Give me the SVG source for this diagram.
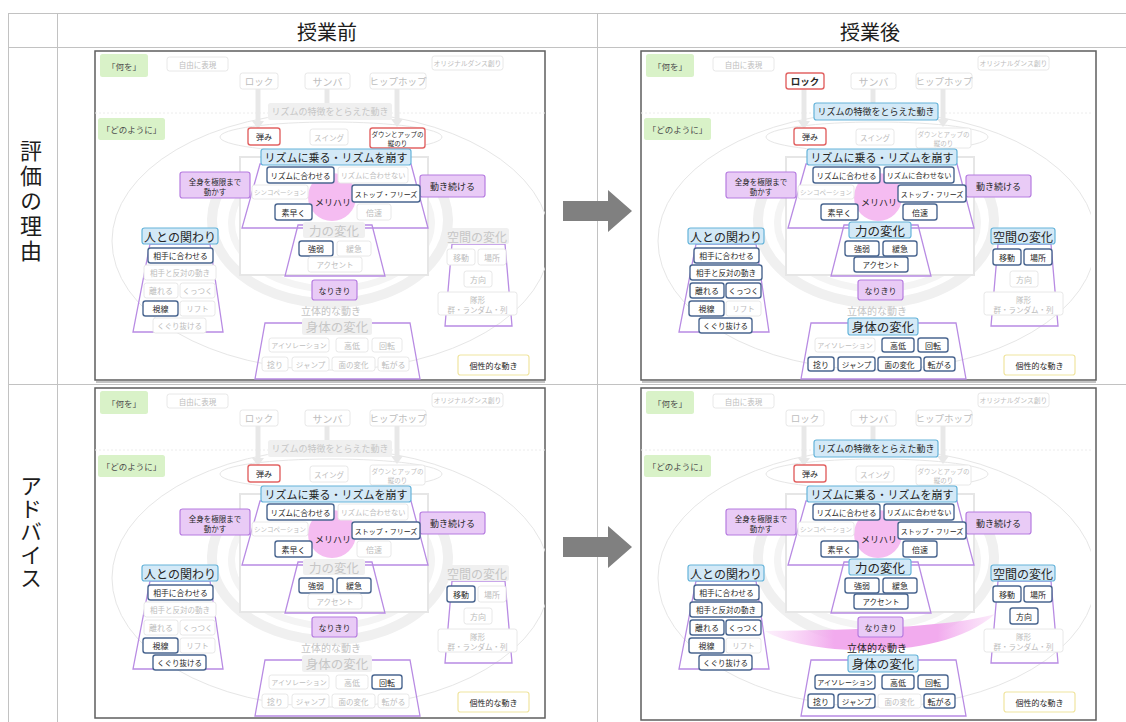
<svg xmlns="http://www.w3.org/2000/svg" xmlns:xlink="http://www.w3.org/1999/xlink" width="1126" height="722" viewBox="0 0 1126 722">
<defs>
<style>
text{font-family:"Noto Sans CJK JP","Noto Sans",sans-serif}
.n text{text-anchor:middle;dominant-baseline:central}
.n rect{rx:2.5px}
.f rect{fill:#fff;stroke:#e8e8e8;stroke-width:1}
.f text{fill:#bdbdbd}
.h rect{fill:#fff;stroke:#4a6690;stroke-width:1.4}
.h text,.r text,.pu text,.b text,.y text{fill:#262626}
.r rect{fill:#fff;stroke:#e26464;stroke-width:1.4}
.b rect{fill:#d3e9f7;stroke:#66b4da;stroke-width:1.2}
.g rect{fill:#f0f0f0}
.g text{fill:#c6c6c6}
.pu rect{fill:#e9cbf6;stroke:#b67ce0;stroke-width:1.2}
.gr rect{fill:#d9f2c8}
.gr text{fill:#4d4d4d}
.y rect{fill:#fff;stroke:#f0e5a0;stroke-width:1.2}
.rtf{fill:#c4c4c4}
.rtd{fill:#262626}
.mh{fill:#262626}
.tz{fill:none;stroke:#b88be3;stroke-width:1.3}
.frame{fill:#fff;stroke:#5e5e5e;stroke-width:1.5}
.shadow{fill:none;stroke:#c4c4c4;stroke-width:2}
.grid{stroke:#c2c2c2;stroke-width:1;fill:none}
.ttl{fill:#1c1c1c;text-anchor:middle;dominant-baseline:central}
.dl{stroke:#ececec;stroke-width:1;stroke-dasharray:2 2}
.bigell{fill:none;stroke:#e6e6e6;stroke-width:1}
.smell{fill:none;stroke:#e6e6e6;stroke-width:1}
.ring1{fill:none;stroke:#f0f0f0;stroke-width:10}
.ring2{fill:none;stroke:#f4f4f4;stroke-width:7}
.garr{stroke:#e8e8e8;stroke-width:5}
.garh{fill:#e8e8e8}
.grect{fill:#fff;stroke:#e6e6e6;stroke-width:2}
.pink{fill:#f5bcf1}
.barrow{fill:#808080}
</style>
<clipPath id="pclip"><rect x="0" y="0" width="450" height="329"/></clipPath>
<linearGradient id="pinkg" x1="0" y1="0" x2="1" y2="0">
<stop offset="0" stop-color="#f6c6f3" stop-opacity="0.25"/>
<stop offset="0.3" stop-color="#f2abee" stop-opacity="1"/>
<stop offset="0.75" stop-color="#f2abee" stop-opacity="1"/>
<stop offset="1" stop-color="#f6c6f3" stop-opacity="0.35"/>
</linearGradient>
<g id="decor">
<line x1="0" y1="62" x2="450" y2="62" class="dl"/>
<ellipse cx="236" cy="190" rx="219" ry="129" class="bigell" clip-path="url(#pclip)"/>
<path d="M131,130 A118,83 0 1 0 339,130" class="ring1"/>
<path d="M149,140 A100,66 0 1 0 324,140" class="ring2"/>
<ellipse cx="236" cy="86" rx="111" ry="15" class="smell"/>
<line x1="163" y1="38" x2="163" y2="71" class="garr"/>
<polygon points="157,70 169,70 163,78" class="garh"/>
<line x1="232" y1="38" x2="232" y2="52" class="garr"/>
<line x1="302" y1="38" x2="302" y2="69" class="garr"/>
<polygon points="296,68 308,68 302,76" class="garh"/>
<rect x="145" y="106" width="188" height="118" class="grect"/>
<polygon points="165,113 316,113 333,177 147,177" class="tz"/>
<polygon points="203,174 277,174 290,225 190,225" class="tz"/>
<polygon points="55,193 115,193 128,281 38,281" class="tz"/>
<polygon points="357,193 410,193 417,275 350,275" class="tz"/>
<polygon points="170,272 315,272 325,328 160,328" class="tz"/>
<circle cx="237" cy="146" r="24" class="pink"/>
</g>
</defs>
<rect x="0" y="0" width="1126" height="722" fill="#fff"/>
<g id="table">
<line x1="8" y1="13.5" x2="1126" y2="13.5" class="grid"/>
<line x1="8" y1="47.5" x2="1126" y2="47.5" class="grid"/>
<line x1="8" y1="384.5" x2="1126" y2="384.5" class="grid"/>
<line x1="8.5" y1="13" x2="8.5" y2="722" class="grid"/>
<line x1="57.5" y1="13" x2="57.5" y2="722" class="grid"/>
<line x1="597.5" y1="13" x2="597.5" y2="722" class="grid"/>
<text x="327" y="31" font-size="20" class="ttl">授業前</text>
<text x="870" y="31" font-size="20" class="ttl">授業後</text>
<text x="31" y="202" font-size="22" letter-spacing="3" class="ttl" style="writing-mode:vertical-rl">評価の理由</text>
<text x="31" y="532" font-size="22" letter-spacing="1" class="ttl" style="writing-mode:vertical-rl">アドバイス</text>
</g>
<g id="connectors">
<polygon points="563,201 608,201 608,190 632,211 608,232 608,221 563,221" class="barrow"/>
<polygon points="563,537 608,537 608,526 632,547 608,568 608,557 563,557" class="barrow"/>
</g>

<g id="panel-tl" transform="translate(95,51)">
<rect x="0" y="0" width="450" height="329" class="frame"/>
<line x1="1" y1="331" x2="450" y2="331" class="shadow"/>
<use xlink:href="#decor" href="#decor"/>
<g id="tl-nani" class="n gr"><rect x="5" y="3" width="48" height="23"/><text x="29" y="14.5" font-size="8.5">「何を」</text></g>
<g id="tl-dono" class="n gr"><rect x="3" y="67" width="67" height="22"/><text x="36.5" y="78" font-size="8.5">「どのように」</text></g>
<g id="tl-jiyu" class="n f"><rect x="72" y="6" width="61" height="14"/><text x="102.5" y="13" font-size="7.5">自由に表現</text></g>
<g id="tl-orig" class="n f"><rect x="337" y="5" width="71" height="14"/><text x="372.5" y="12" font-size="6.8">オリジナルダンス創り</text></g>
<g id="tl-rock" class="n f"><rect x="145" y="22" width="38" height="16"/><text x="164" y="30" font-size="9.5">ロック</text></g>
<g id="tl-samba" class="n f"><rect x="210" y="22" width="45" height="16"/><text x="232.5" y="30" font-size="10">サンバ</text></g>
<g id="tl-hiphop" class="n f"><rect x="275" y="22" width="56" height="16"/><text x="303" y="30" font-size="9.5">ヒップホップ</text></g>
<g id="tl-tokucho" class="n g"><rect x="173" y="52" width="124" height="17"/><text x="235" y="60.5" font-size="9">リズムの特徴をとらえた動き</text></g>
<g id="tl-hazumi" class="n r"><rect x="153" y="77" width="32" height="17"/><text x="169" y="85.5" font-size="8">弾み</text></g>
<g id="tl-swing" class="n f"><rect x="215" y="78" width="38" height="16"/><text x="234" y="86" font-size="7.5">スイング</text></g>
<g id="tl-down" class="n r"><rect x="275" y="77" width="55" height="20"/><text font-size="6.5"><tspan x="302.5" y="83">ダウンとアップの</tspan><tspan x="302.5" y="91.5">縦のり</tspan></text></g>
<g id="tl-noru" class="n b"><rect x="166" y="98" width="150" height="16"/><text x="241" y="106" font-size="11">リズムに乗る・リズムを崩す</text></g>
<g id="tl-awaseru" class="n h"><rect x="172" y="116" width="67" height="16"/><text x="205.5" y="124" font-size="7.5">リズムに合わせる</text></g>
<g id="tl-awasenai" class="n f"><rect x="243" y="116" width="70" height="16"/><text x="278" y="124" font-size="7.2">リズムに合わせない</text></g>
<g id="tl-zenshin" class="n pu"><rect x="85" y="121" width="70" height="26"/><text font-size="7.5"><tspan x="120" y="129.5">全身を極限まで</tspan><tspan x="120" y="140">動かす</tspan></text></g>
<g id="tl-tsuzukeru" class="n pu"><rect x="325" y="124" width="65" height="22"/><text x="357.5" y="135" font-size="9">動き続ける</text></g>
<g id="tl-sync" class="n f"><rect x="157" y="134" width="56" height="14"/><text x="185" y="141" font-size="6.5">シンコペーション</text></g>
<g id="tl-stop" class="n h"><rect x="257" y="134" width="68" height="17"/><text x="291" y="142.5" font-size="7">ストップ・フリーズ</text></g>
<g id="tl-meri" class="n"><text x="238" y="151" font-size="9" class="mh">メリハリ</text></g>
<g id="tl-subayaku" class="n h"><rect x="180" y="153" width="37" height="16"/><text x="198.5" y="161" font-size="8">素早く</text></g>
<g id="tl-baisoku" class="n f"><rect x="262" y="153" width="34" height="16"/><text x="279" y="161" font-size="8">倍速</text></g>
<g id="tl-chikara" class="n g"><rect x="208" y="171" width="62" height="16"/><text x="239" y="179" font-size="12.5">力の変化</text></g>
<g id="tl-kyojaku" class="n h"><rect x="204" y="190" width="34" height="15"/><text x="221" y="197.5" font-size="8">強弱</text></g>
<g id="tl-kankyu" class="n f"><rect x="242" y="190" width="34" height="15"/><text x="259" y="197.5" font-size="8">緩急</text></g>
<g id="tl-accent" class="n f"><rect x="213" y="206" width="54" height="15"/><text x="240" y="213.5" font-size="7.5">アクセント</text></g>
<g id="tl-narikiri" class="n pu"><rect x="217" y="229" width="45" height="20"/><text x="239.5" y="239" font-size="8">なりきり</text></g>
<g id="tl-rittai" class="n"><text x="236" y="259" font-size="10" class="rtf">立体的な動き</text></g>
<g id="tl-shintai" class="n g"><rect x="207" y="267" width="70" height="17"/><text x="242" y="275.5" font-size="12.5">身体の変化</text></g>
<g id="tl-isolation" class="n f"><rect x="174" y="287" width="60" height="14"/><text x="204" y="294" font-size="7">アイソレーション</text></g>
<g id="tl-kotei" class="n f"><rect x="241" y="287" width="32" height="14"/><text x="257" y="294" font-size="8">高低</text></g>
<g id="tl-kaiten" class="n f"><rect x="277" y="287" width="30" height="14"/><text x="292" y="294" font-size="8">回転</text></g>
<g id="tl-hineri" class="n f"><rect x="167" y="306" width="26" height="14"/><text x="180" y="313" font-size="8">捻り</text></g>
<g id="tl-jump" class="n f"><rect x="197" y="306" width="37" height="14"/><text x="215.5" y="313" font-size="7.5">ジャンプ</text></g>
<g id="tl-men" class="n f"><rect x="237" y="306" width="43" height="14"/><text x="258.5" y="313" font-size="7.5">面の変化</text></g>
<g id="tl-korogaru" class="n f"><rect x="283" y="306" width="31" height="14"/><text x="298.5" y="313" font-size="8">転がる</text></g>
<g id="tl-hito" class="n b"><rect x="47" y="177" width="76" height="16"/><text x="85" y="185" font-size="12">人との関わり</text></g>
<g id="tl-aite" class="n h"><rect x="53" y="197" width="65" height="15"/><text x="85.5" y="204.5" font-size="7.8">相手に合わせる</text></g>
<g id="tl-hantai" class="n f"><rect x="49" y="214" width="72" height="15"/><text x="85" y="221.5" font-size="7.5">相手と反対の動き</text></g>
<g id="tl-hanareru" class="n f"><rect x="49" y="232" width="34" height="15"/><text x="66" y="239.5" font-size="8">離れる</text></g>
<g id="tl-kuttsuku" class="n f"><rect x="85" y="232" width="35" height="15"/><text x="102.5" y="239.5" font-size="7.5">くっつく</text></g>
<g id="tl-shisen" class="n h"><rect x="48" y="250" width="35" height="15"/><text x="65.5" y="257.5" font-size="8">視線</text></g>
<g id="tl-lift" class="n f"><rect x="85" y="250" width="35" height="15"/><text x="102.5" y="257.5" font-size="7.5">リフト</text></g>
<g id="tl-kuguri" class="n f"><rect x="58" y="267" width="53" height="15"/><text x="84.5" y="274.5" font-size="7.5">くぐり抜ける</text></g>
<g id="tl-kukan" class="n g"><rect x="350" y="177" width="64" height="16"/><text x="382" y="185" font-size="12">空間の変化</text></g>
<g id="tl-ido" class="n f"><rect x="352" y="198" width="28" height="16"/><text x="366" y="206" font-size="8">移動</text></g>
<g id="tl-basho" class="n f"><rect x="383" y="198" width="28" height="16"/><text x="397" y="206" font-size="8">場所</text></g>
<g id="tl-hoko" class="n f"><rect x="369" y="220" width="28" height="16"/><text x="383" y="228" font-size="8">方向</text></g>
<g id="tl-taikei" class="n f"><rect x="343" y="241" width="79" height="23"/><text font-size="7.5"><tspan x="382.5" y="248">隊形</tspan><tspan x="382.5" y="258">群・ランダム・列</tspan></text></g>
<g id="tl-kosei" class="n y"><rect x="363" y="304" width="71" height="20"/><text x="398.5" y="314" font-size="8">個性的な動き</text></g>
</g>

<g id="panel-tr" transform="translate(641,51)">
<rect x="0" y="0" width="455" height="329" class="frame"/>
<line x1="1" y1="331" x2="455" y2="331" class="shadow"/>
<use xlink:href="#decor" href="#decor"/>
<g id="tr-nani" class="n gr"><rect x="5" y="3" width="48" height="23"/><text x="29" y="14.5" font-size="8.5">「何を」</text></g>
<g id="tr-dono" class="n gr"><rect x="3" y="67" width="67" height="22"/><text x="36.5" y="78" font-size="8.5">「どのように」</text></g>
<g id="tr-jiyu" class="n f"><rect x="72" y="6" width="61" height="14"/><text x="102.5" y="13" font-size="7.5">自由に表現</text></g>
<g id="tr-orig" class="n f"><rect x="337" y="5" width="71" height="14"/><text x="372.5" y="12" font-size="6.8">オリジナルダンス創り</text></g>
<g id="tr-rock" class="n r"><rect x="145" y="22" width="38" height="16"/><text x="164" y="30" font-size="9.5" font-weight="bold">ロック</text></g>
<g id="tr-samba" class="n f"><rect x="210" y="22" width="45" height="16"/><text x="232.5" y="30" font-size="10">サンバ</text></g>
<g id="tr-hiphop" class="n f"><rect x="275" y="22" width="56" height="16"/><text x="303" y="30" font-size="9.5">ヒップホップ</text></g>
<g id="tr-tokucho" class="n b"><rect x="173" y="52" width="124" height="17"/><text x="235" y="60.5" font-size="9">リズムの特徴をとらえた動き</text></g>
<g id="tr-hazumi" class="n r"><rect x="153" y="77" width="32" height="17"/><text x="169" y="85.5" font-size="8">弾み</text></g>
<g id="tr-swing" class="n f"><rect x="215" y="78" width="38" height="16"/><text x="234" y="86" font-size="7.5">スイング</text></g>
<g id="tr-down" class="n f"><rect x="275" y="77" width="55" height="20"/><text font-size="6.5"><tspan x="302.5" y="83">ダウンとアップの</tspan><tspan x="302.5" y="91.5">縦のり</tspan></text></g>
<g id="tr-noru" class="n b"><rect x="166" y="98" width="150" height="16"/><text x="241" y="106" font-size="11">リズムに乗る・リズムを崩す</text></g>
<g id="tr-awaseru" class="n h"><rect x="172" y="116" width="67" height="16"/><text x="205.5" y="124" font-size="7.5">リズムに合わせる</text></g>
<g id="tr-awasenai" class="n h"><rect x="243" y="116" width="70" height="16"/><text x="278" y="124" font-size="7.2">リズムに合わせない</text></g>
<g id="tr-zenshin" class="n pu"><rect x="85" y="121" width="70" height="26"/><text font-size="7.5"><tspan x="120" y="129.5">全身を極限まで</tspan><tspan x="120" y="140">動かす</tspan></text></g>
<g id="tr-tsuzukeru" class="n pu"><rect x="325" y="124" width="65" height="22"/><text x="357.5" y="135" font-size="9">動き続ける</text></g>
<g id="tr-sync" class="n f"><rect x="157" y="134" width="56" height="14"/><text x="185" y="141" font-size="6.5">シンコペーション</text></g>
<g id="tr-stop" class="n h"><rect x="257" y="134" width="68" height="17"/><text x="291" y="142.5" font-size="7">ストップ・フリーズ</text></g>
<g id="tr-meri" class="n"><text x="238" y="151" font-size="9" class="mh">メリハリ</text></g>
<g id="tr-subayaku" class="n h"><rect x="180" y="153" width="37" height="16"/><text x="198.5" y="161" font-size="8">素早く</text></g>
<g id="tr-baisoku" class="n h"><rect x="262" y="153" width="34" height="16"/><text x="279" y="161" font-size="8">倍速</text></g>
<g id="tr-chikara" class="n b"><rect x="208" y="171" width="62" height="16"/><text x="239" y="179" font-size="12.5">力の変化</text></g>
<g id="tr-kyojaku" class="n h"><rect x="204" y="190" width="34" height="15"/><text x="221" y="197.5" font-size="8">強弱</text></g>
<g id="tr-kankyu" class="n h"><rect x="242" y="190" width="34" height="15"/><text x="259" y="197.5" font-size="8">緩急</text></g>
<g id="tr-accent" class="n h"><rect x="213" y="206" width="54" height="15"/><text x="240" y="213.5" font-size="7.5">アクセント</text></g>
<g id="tr-narikiri" class="n pu"><rect x="217" y="229" width="45" height="20"/><text x="239.5" y="239" font-size="8">なりきり</text></g>
<g id="tr-rittai" class="n"><text x="236" y="259" font-size="10" class="rtf">立体的な動き</text></g>
<g id="tr-shintai" class="n b"><rect x="207" y="267" width="70" height="17"/><text x="242" y="275.5" font-size="12.5">身体の変化</text></g>
<g id="tr-isolation" class="n f"><rect x="174" y="287" width="60" height="14"/><text x="204" y="294" font-size="7">アイソレーション</text></g>
<g id="tr-kotei" class="n h"><rect x="241" y="287" width="32" height="14"/><text x="257" y="294" font-size="8">高低</text></g>
<g id="tr-kaiten" class="n h"><rect x="277" y="287" width="30" height="14"/><text x="292" y="294" font-size="8">回転</text></g>
<g id="tr-hineri" class="n h"><rect x="167" y="306" width="26" height="14"/><text x="180" y="313" font-size="8">捻り</text></g>
<g id="tr-jump" class="n h"><rect x="197" y="306" width="37" height="14"/><text x="215.5" y="313" font-size="7.5">ジャンプ</text></g>
<g id="tr-men" class="n h"><rect x="237" y="306" width="43" height="14"/><text x="258.5" y="313" font-size="7.5">面の変化</text></g>
<g id="tr-korogaru" class="n h"><rect x="283" y="306" width="31" height="14"/><text x="298.5" y="313" font-size="8">転がる</text></g>
<g id="tr-hito" class="n b"><rect x="47" y="177" width="76" height="16"/><text x="85" y="185" font-size="12">人との関わり</text></g>
<g id="tr-aite" class="n h"><rect x="53" y="197" width="65" height="15"/><text x="85.5" y="204.5" font-size="7.8">相手に合わせる</text></g>
<g id="tr-hantai" class="n h"><rect x="49" y="214" width="72" height="15"/><text x="85" y="221.5" font-size="7.5">相手と反対の動き</text></g>
<g id="tr-hanareru" class="n h"><rect x="49" y="232" width="34" height="15"/><text x="66" y="239.5" font-size="8">離れる</text></g>
<g id="tr-kuttsuku" class="n h"><rect x="85" y="232" width="35" height="15"/><text x="102.5" y="239.5" font-size="7.5">くっつく</text></g>
<g id="tr-shisen" class="n h"><rect x="48" y="250" width="35" height="15"/><text x="65.5" y="257.5" font-size="8">視線</text></g>
<g id="tr-lift" class="n f"><rect x="85" y="250" width="35" height="15"/><text x="102.5" y="257.5" font-size="7.5">リフト</text></g>
<g id="tr-kuguri" class="n h"><rect x="58" y="267" width="53" height="15"/><text x="84.5" y="274.5" font-size="7.5">くぐり抜ける</text></g>
<g id="tr-kukan" class="n b"><rect x="350" y="177" width="64" height="16"/><text x="382" y="185" font-size="12">空間の変化</text></g>
<g id="tr-ido" class="n h"><rect x="352" y="198" width="28" height="16"/><text x="366" y="206" font-size="8">移動</text></g>
<g id="tr-basho" class="n h"><rect x="383" y="198" width="28" height="16"/><text x="397" y="206" font-size="8">場所</text></g>
<g id="tr-hoko" class="n f"><rect x="369" y="220" width="28" height="16"/><text x="383" y="228" font-size="8">方向</text></g>
<g id="tr-taikei" class="n f"><rect x="343" y="241" width="79" height="23"/><text font-size="7.5"><tspan x="382.5" y="248">隊形</tspan><tspan x="382.5" y="258">群・ランダム・列</tspan></text></g>
<g id="tr-kosei" class="n y"><rect x="363" y="304" width="71" height="20"/><text x="398.5" y="314" font-size="8">個性的な動き</text></g>
</g>

<g id="panel-bl" transform="translate(95,388)">
<rect x="0" y="0" width="450" height="330" class="frame"/>
<use xlink:href="#decor" href="#decor"/>
<g id="bl-nani" class="n gr"><rect x="5" y="3" width="48" height="23"/><text x="29" y="14.5" font-size="8.5">「何を」</text></g>
<g id="bl-dono" class="n gr"><rect x="3" y="67" width="67" height="22"/><text x="36.5" y="78" font-size="8.5">「どのように」</text></g>
<g id="bl-jiyu" class="n f"><rect x="72" y="6" width="61" height="14"/><text x="102.5" y="13" font-size="7.5">自由に表現</text></g>
<g id="bl-orig" class="n f"><rect x="337" y="5" width="71" height="14"/><text x="372.5" y="12" font-size="6.8">オリジナルダンス創り</text></g>
<g id="bl-rock" class="n f"><rect x="145" y="22" width="38" height="16"/><text x="164" y="30" font-size="9.5">ロック</text></g>
<g id="bl-samba" class="n f"><rect x="210" y="22" width="45" height="16"/><text x="232.5" y="30" font-size="10">サンバ</text></g>
<g id="bl-hiphop" class="n f"><rect x="275" y="22" width="56" height="16"/><text x="303" y="30" font-size="9.5">ヒップホップ</text></g>
<g id="bl-tokucho" class="n g"><rect x="173" y="52" width="124" height="17"/><text x="235" y="60.5" font-size="9">リズムの特徴をとらえた動き</text></g>
<g id="bl-hazumi" class="n r"><rect x="153" y="77" width="32" height="17"/><text x="169" y="85.5" font-size="8">弾み</text></g>
<g id="bl-swing" class="n f"><rect x="215" y="78" width="38" height="16"/><text x="234" y="86" font-size="7.5">スイング</text></g>
<g id="bl-down" class="n f"><rect x="275" y="77" width="55" height="20"/><text font-size="6.5"><tspan x="302.5" y="83">ダウンとアップの</tspan><tspan x="302.5" y="91.5">縦のり</tspan></text></g>
<g id="bl-noru" class="n b"><rect x="166" y="98" width="150" height="16"/><text x="241" y="106" font-size="11">リズムに乗る・リズムを崩す</text></g>
<g id="bl-awaseru" class="n h"><rect x="172" y="116" width="67" height="16"/><text x="205.5" y="124" font-size="7.5">リズムに合わせる</text></g>
<g id="bl-awasenai" class="n f"><rect x="243" y="116" width="70" height="16"/><text x="278" y="124" font-size="7.2">リズムに合わせない</text></g>
<g id="bl-zenshin" class="n pu"><rect x="85" y="121" width="70" height="26"/><text font-size="7.5"><tspan x="120" y="129.5">全身を極限まで</tspan><tspan x="120" y="140">動かす</tspan></text></g>
<g id="bl-tsuzukeru" class="n pu"><rect x="325" y="124" width="65" height="22"/><text x="357.5" y="135" font-size="9">動き続ける</text></g>
<g id="bl-sync" class="n f"><rect x="157" y="134" width="56" height="14"/><text x="185" y="141" font-size="6.5">シンコペーション</text></g>
<g id="bl-stop" class="n h"><rect x="257" y="134" width="68" height="17"/><text x="291" y="142.5" font-size="7">ストップ・フリーズ</text></g>
<g id="bl-meri" class="n"><text x="238" y="151" font-size="9" class="mh">メリハリ</text></g>
<g id="bl-subayaku" class="n h"><rect x="180" y="153" width="37" height="16"/><text x="198.5" y="161" font-size="8">素早く</text></g>
<g id="bl-baisoku" class="n f"><rect x="262" y="153" width="34" height="16"/><text x="279" y="161" font-size="8">倍速</text></g>
<g id="bl-chikara" class="n g"><rect x="208" y="171" width="62" height="16"/><text x="239" y="179" font-size="12.5">力の変化</text></g>
<g id="bl-kyojaku" class="n h"><rect x="204" y="190" width="34" height="15"/><text x="221" y="197.5" font-size="8">強弱</text></g>
<g id="bl-kankyu" class="n h"><rect x="242" y="190" width="34" height="15"/><text x="259" y="197.5" font-size="8">緩急</text></g>
<g id="bl-accent" class="n f"><rect x="213" y="206" width="54" height="15"/><text x="240" y="213.5" font-size="7.5">アクセント</text></g>
<g id="bl-narikiri" class="n pu"><rect x="217" y="229" width="45" height="20"/><text x="239.5" y="239" font-size="8">なりきり</text></g>
<g id="bl-rittai" class="n"><text x="236" y="259" font-size="10" class="rtf">立体的な動き</text></g>
<g id="bl-shintai" class="n g"><rect x="207" y="267" width="70" height="17"/><text x="242" y="275.5" font-size="12.5">身体の変化</text></g>
<g id="bl-isolation" class="n f"><rect x="174" y="287" width="60" height="14"/><text x="204" y="294" font-size="7">アイソレーション</text></g>
<g id="bl-kotei" class="n f"><rect x="241" y="287" width="32" height="14"/><text x="257" y="294" font-size="8">高低</text></g>
<g id="bl-kaiten" class="n h"><rect x="277" y="287" width="30" height="14"/><text x="292" y="294" font-size="8">回転</text></g>
<g id="bl-hineri" class="n f"><rect x="167" y="306" width="26" height="14"/><text x="180" y="313" font-size="8">捻り</text></g>
<g id="bl-jump" class="n f"><rect x="197" y="306" width="37" height="14"/><text x="215.5" y="313" font-size="7.5">ジャンプ</text></g>
<g id="bl-men" class="n f"><rect x="237" y="306" width="43" height="14"/><text x="258.5" y="313" font-size="7.5">面の変化</text></g>
<g id="bl-korogaru" class="n f"><rect x="283" y="306" width="31" height="14"/><text x="298.5" y="313" font-size="8">転がる</text></g>
<g id="bl-hito" class="n b"><rect x="47" y="177" width="76" height="16"/><text x="85" y="185" font-size="12">人との関わり</text></g>
<g id="bl-aite" class="n h"><rect x="53" y="197" width="65" height="15"/><text x="85.5" y="204.5" font-size="7.8">相手に合わせる</text></g>
<g id="bl-hantai" class="n f"><rect x="49" y="214" width="72" height="15"/><text x="85" y="221.5" font-size="7.5">相手と反対の動き</text></g>
<g id="bl-hanareru" class="n f"><rect x="49" y="232" width="34" height="15"/><text x="66" y="239.5" font-size="8">離れる</text></g>
<g id="bl-kuttsuku" class="n f"><rect x="85" y="232" width="35" height="15"/><text x="102.5" y="239.5" font-size="7.5">くっつく</text></g>
<g id="bl-shisen" class="n h"><rect x="48" y="250" width="35" height="15"/><text x="65.5" y="257.5" font-size="8">視線</text></g>
<g id="bl-lift" class="n f"><rect x="85" y="250" width="35" height="15"/><text x="102.5" y="257.5" font-size="7.5">リフト</text></g>
<g id="bl-kuguri" class="n h"><rect x="58" y="267" width="53" height="15"/><text x="84.5" y="274.5" font-size="7.5">くぐり抜ける</text></g>
<g id="bl-kukan" class="n g"><rect x="350" y="177" width="64" height="16"/><text x="382" y="185" font-size="12">空間の変化</text></g>
<g id="bl-ido" class="n h"><rect x="352" y="198" width="28" height="16"/><text x="366" y="206" font-size="8">移動</text></g>
<g id="bl-basho" class="n f"><rect x="383" y="198" width="28" height="16"/><text x="397" y="206" font-size="8">場所</text></g>
<g id="bl-hoko" class="n f"><rect x="369" y="220" width="28" height="16"/><text x="383" y="228" font-size="8">方向</text></g>
<g id="bl-taikei" class="n f"><rect x="343" y="241" width="79" height="23"/><text font-size="7.5"><tspan x="382.5" y="248">隊形</tspan><tspan x="382.5" y="258">群・ランダム・列</tspan></text></g>
<g id="bl-kosei" class="n y"><rect x="363" y="304" width="71" height="20"/><text x="398.5" y="314" font-size="8">個性的な動き</text></g>
</g>

<g id="panel-br" transform="translate(641,388)">
<rect x="0" y="0" width="455" height="332" class="frame"/>
<use xlink:href="#decor" href="#decor"/>
<path d="M124,243 C165,268 300,275 354,226 C300,242 170,242 124,243 Z" fill="url(#pinkg)"/>
<g id="br-nani" class="n gr"><rect x="5" y="3" width="48" height="23"/><text x="29" y="14.5" font-size="8.5">「何を」</text></g>
<g id="br-dono" class="n gr"><rect x="3" y="67" width="67" height="22"/><text x="36.5" y="78" font-size="8.5">「どのように」</text></g>
<g id="br-jiyu" class="n f"><rect x="72" y="6" width="61" height="14"/><text x="102.5" y="13" font-size="7.5">自由に表現</text></g>
<g id="br-orig" class="n f"><rect x="337" y="5" width="71" height="14"/><text x="372.5" y="12" font-size="6.8">オリジナルダンス創り</text></g>
<g id="br-rock" class="n f"><rect x="145" y="22" width="38" height="16"/><text x="164" y="30" font-size="9.5">ロック</text></g>
<g id="br-samba" class="n f"><rect x="210" y="22" width="45" height="16"/><text x="232.5" y="30" font-size="10">サンバ</text></g>
<g id="br-hiphop" class="n f"><rect x="275" y="22" width="56" height="16"/><text x="303" y="30" font-size="9.5">ヒップホップ</text></g>
<g id="br-tokucho" class="n b"><rect x="173" y="52" width="124" height="17"/><text x="235" y="60.5" font-size="9">リズムの特徴をとらえた動き</text></g>
<g id="br-hazumi" class="n r"><rect x="153" y="77" width="32" height="17"/><text x="169" y="85.5" font-size="8">弾み</text></g>
<g id="br-swing" class="n f"><rect x="215" y="78" width="38" height="16"/><text x="234" y="86" font-size="7.5">スイング</text></g>
<g id="br-down" class="n f"><rect x="275" y="77" width="55" height="20"/><text font-size="6.5"><tspan x="302.5" y="83">ダウンとアップの</tspan><tspan x="302.5" y="91.5">縦のり</tspan></text></g>
<g id="br-noru" class="n b"><rect x="166" y="98" width="150" height="16"/><text x="241" y="106" font-size="11">リズムに乗る・リズムを崩す</text></g>
<g id="br-awaseru" class="n h"><rect x="172" y="116" width="67" height="16"/><text x="205.5" y="124" font-size="7.5">リズムに合わせる</text></g>
<g id="br-awasenai" class="n h"><rect x="243" y="116" width="70" height="16"/><text x="278" y="124" font-size="7.2">リズムに合わせない</text></g>
<g id="br-zenshin" class="n pu"><rect x="85" y="121" width="70" height="26"/><text font-size="7.5"><tspan x="120" y="129.5">全身を極限まで</tspan><tspan x="120" y="140">動かす</tspan></text></g>
<g id="br-tsuzukeru" class="n pu"><rect x="325" y="124" width="65" height="22"/><text x="357.5" y="135" font-size="9">動き続ける</text></g>
<g id="br-sync" class="n f"><rect x="157" y="134" width="56" height="14"/><text x="185" y="141" font-size="6.5">シンコペーション</text></g>
<g id="br-stop" class="n h"><rect x="257" y="134" width="68" height="17"/><text x="291" y="142.5" font-size="7">ストップ・フリーズ</text></g>
<g id="br-meri" class="n"><text x="238" y="151" font-size="9" class="mh">メリハリ</text></g>
<g id="br-subayaku" class="n h"><rect x="180" y="153" width="37" height="16"/><text x="198.5" y="161" font-size="8">素早く</text></g>
<g id="br-baisoku" class="n h"><rect x="262" y="153" width="34" height="16"/><text x="279" y="161" font-size="8">倍速</text></g>
<g id="br-chikara" class="n b"><rect x="208" y="171" width="62" height="16"/><text x="239" y="179" font-size="12.5">力の変化</text></g>
<g id="br-kyojaku" class="n h"><rect x="204" y="190" width="34" height="15"/><text x="221" y="197.5" font-size="8">強弱</text></g>
<g id="br-kankyu" class="n h"><rect x="242" y="190" width="34" height="15"/><text x="259" y="197.5" font-size="8">緩急</text></g>
<g id="br-accent" class="n h"><rect x="213" y="206" width="54" height="15"/><text x="240" y="213.5" font-size="7.5">アクセント</text></g>
<g id="br-narikiri" class="n pu"><rect x="217" y="229" width="45" height="20"/><text x="239.5" y="239" font-size="8">なりきり</text></g>
<g id="br-rittai" class="n"><text x="236" y="259" font-size="10" class="rtd">立体的な動き</text></g>
<g id="br-shintai" class="n b"><rect x="207" y="267" width="70" height="17"/><text x="242" y="275.5" font-size="12.5">身体の変化</text></g>
<g id="br-isolation" class="n h"><rect x="174" y="287" width="60" height="14"/><text x="204" y="294" font-size="7">アイソレーション</text></g>
<g id="br-kotei" class="n h"><rect x="241" y="287" width="32" height="14"/><text x="257" y="294" font-size="8">高低</text></g>
<g id="br-kaiten" class="n h"><rect x="277" y="287" width="30" height="14"/><text x="292" y="294" font-size="8">回転</text></g>
<g id="br-hineri" class="n h"><rect x="167" y="306" width="26" height="14"/><text x="180" y="313" font-size="8">捻り</text></g>
<g id="br-jump" class="n h"><rect x="197" y="306" width="37" height="14"/><text x="215.5" y="313" font-size="7.5">ジャンプ</text></g>
<g id="br-men" class="n f"><rect x="237" y="306" width="43" height="14"/><text x="258.5" y="313" font-size="7.5">面の変化</text></g>
<g id="br-korogaru" class="n h"><rect x="283" y="306" width="31" height="14"/><text x="298.5" y="313" font-size="8">転がる</text></g>
<g id="br-hito" class="n b"><rect x="47" y="177" width="76" height="16"/><text x="85" y="185" font-size="12">人との関わり</text></g>
<g id="br-aite" class="n h"><rect x="53" y="197" width="65" height="15"/><text x="85.5" y="204.5" font-size="7.8">相手に合わせる</text></g>
<g id="br-hantai" class="n h"><rect x="49" y="214" width="72" height="15"/><text x="85" y="221.5" font-size="7.5">相手と反対の動き</text></g>
<g id="br-hanareru" class="n h"><rect x="49" y="232" width="34" height="15"/><text x="66" y="239.5" font-size="8">離れる</text></g>
<g id="br-kuttsuku" class="n h"><rect x="85" y="232" width="35" height="15"/><text x="102.5" y="239.5" font-size="7.5">くっつく</text></g>
<g id="br-shisen" class="n h"><rect x="48" y="250" width="35" height="15"/><text x="65.5" y="257.5" font-size="8">視線</text></g>
<g id="br-lift" class="n f"><rect x="85" y="250" width="35" height="15"/><text x="102.5" y="257.5" font-size="7.5">リフト</text></g>
<g id="br-kuguri" class="n h"><rect x="58" y="267" width="53" height="15"/><text x="84.5" y="274.5" font-size="7.5">くぐり抜ける</text></g>
<g id="br-kukan" class="n b"><rect x="350" y="177" width="64" height="16"/><text x="382" y="185" font-size="12">空間の変化</text></g>
<g id="br-ido" class="n h"><rect x="352" y="198" width="28" height="16"/><text x="366" y="206" font-size="8">移動</text></g>
<g id="br-basho" class="n h"><rect x="383" y="198" width="28" height="16"/><text x="397" y="206" font-size="8">場所</text></g>
<g id="br-hoko" class="n h"><rect x="369" y="220" width="28" height="16"/><text x="383" y="228" font-size="8">方向</text></g>
<g id="br-taikei" class="n f"><rect x="343" y="241" width="79" height="23"/><text font-size="7.5"><tspan x="382.5" y="248">隊形</tspan><tspan x="382.5" y="258">群・ランダム・列</tspan></text></g>
<g id="br-kosei" class="n y"><rect x="363" y="304" width="71" height="20"/><text x="398.5" y="314" font-size="8">個性的な動き</text></g>
</g>
</svg>
